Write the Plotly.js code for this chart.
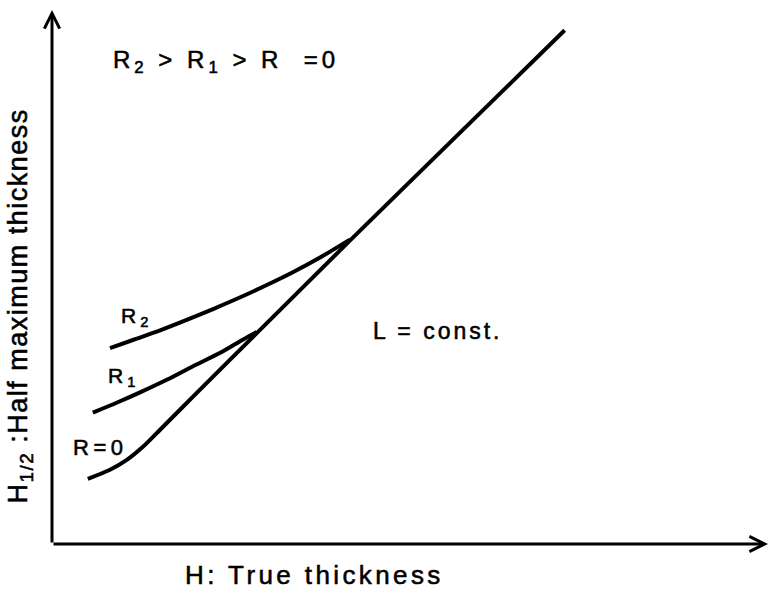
<!DOCTYPE html>
<html>
<head>
<meta charset="utf-8">
<script src="https://cdn.plot.ly/plotly-3.0.1.min.js"></script>
<style>
html,body{margin:0;padding:0;background:#fff;}
#chart{width:769px;height:592px;}
#chart text.annotation-text{stroke:#000;stroke-width:0.55px;}
#chart g.annotation[data-index="0"] text{letter-spacing:4px;}
#chart g.annotation[data-index="1"] text{letter-spacing:3px;}
#chart g.annotation[data-index="2"] text{letter-spacing:4px;}
#chart g.annotation[data-index="3"] text{letter-spacing:4px;}
#chart g.annotation[data-index="4"] text{letter-spacing:4.5px;}
#chart g.annotation[data-index="5"] text{letter-spacing:3.4px;}
#chart g.annotation[data-index="6"] text{letter-spacing:1.5px;}
</style>
</head>
<body>
<div id="chart"></div>
<script>
// H: true thickness (arbitrary units) vs H1/2: half maximum thickness
const hTrueR0 = [5.0, 8.1, 10.5, 12.7, 15.1, 19.7, 28.6, 41.6, 55.6, 71.6];
const hHalfR0 = [12.2, 13.9, 15.8, 18.2, 21.4, 27.6, 39.5, 56.8, 75.2, 96.2];
const hTrueR1 = [5.7, 9.1, 12.3, 16.1, 19.7, 23.5, 26.7, 28.6];
const hHalfR1 = [24.6, 26.5, 28.4, 30.8, 33.3, 35.8, 38.3, 39.7];
const hTrueR2 = [8.1, 11.3, 15.1, 18.9, 22.5, 26.3, 30.0, 33.5, 37.5, 41.6];
const hHalfR2 = [36.7, 38.2, 40.0, 42.0, 44.0, 46.2, 48.5, 50.8, 53.7, 57.0];

const seriesNames = ["R=0", "R1", "R2"];
const labelTexts = ["R=0", "R<sub>1</sub>", "R<sub>2</sub>"];
const titleText = "R<sub>2</sub> > R<sub>1</sub> > R  =0";
const noteText = "L = const.";
const xTitle = "H: True thickness";
const yTitle = "H<sub>1/2</sub> :Half maximum thickness";

const FONT = "Liberation Sans, Arial, sans-serif";
const lineStyle = {color: "#000", width: 4, shape: "spline", smoothing: 0.8};

const traces = [
  {x: hTrueR0, y: hHalfR0, name: seriesNames[0], mode: "lines", line: lineStyle, hoverinfo: "skip"},
  {x: hTrueR1, y: hHalfR1, name: seriesNames[1], mode: "lines", line: lineStyle, hoverinfo: "skip"},
  {x: hTrueR2, y: hHalfR2, name: seriesNames[2], mode: "lines", line: lineStyle, hoverinfo: "skip"}
];

const txt = (size) => ({family: FONT, size: size, color: "#000"});

const annotations = [
  {xref: "x", yref: "y", x: 8.3, y: 90.4, xanchor: "left", align: "left", yanchor: "middle", text: titleText, showarrow: false, font: txt(24)},
  {xref: "x", yref: "y", x: 44.5, y: 39.8, xanchor: "left", align: "left", yanchor: "middle", text: noteText, showarrow: false, font: txt(23)},
  {xref: "x", yref: "y", x: 9.3, y: 42.5, xanchor: "left", align: "left", yanchor: "middle", text: labelTexts[2], showarrow: false, font: txt(21)},
  {xref: "x", yref: "y", x: 7.6, y: 31.2, xanchor: "left", align: "left", yanchor: "middle", text: labelTexts[1], showarrow: false, font: txt(21)},
  {xref: "x", yref: "y", x: 2.7, y: 18.0, xanchor: "left", align: "left", yanchor: "middle", text: labelTexts[0], showarrow: false, font: txt(22)},
  {xref: "paper", yref: "paper", x: 0.367, y: -0.058, xanchor: "center", yanchor: "middle", text: xTitle, showarrow: false, font: txt(26)},
  {xref: "paper", yref: "paper", x: -0.045, y: 0.446, xanchor: "center", yanchor: "middle", text: yTitle, textangle: -90, showarrow: false, font: txt(27)},
  // axes drawn as arrows
  {xref: "x", yref: "y", axref: "x", ayref: "y", x: 0, y: 100, ax: 0, ay: 0, text: "", showarrow: true, arrowhead: 5, arrowsize: 1, arrowwidth: 3, arrowcolor: "#000", standoff: 0, startstandoff: 0},
  {xref: "x", yref: "y", axref: "x", ayref: "y", x: 100, y: 0, ax: 0, ay: 0, text: "", showarrow: true, arrowhead: 5, arrowsize: 1, arrowwidth: 3, arrowcolor: "#000", standoff: 0, startstandoff: 0}
];

const layout = {
  width: 769, height: 592,
  margin: {l: 52, r: 1, t: 10, b: 48},
  paper_bgcolor: "#fff", plot_bgcolor: "#fff",
  showlegend: false,
  xaxis: {range: [0, 100], visible: false, fixedrange: true},
  yaxis: {range: [0, 100], visible: false, fixedrange: true},
  annotations: annotations
};

Plotly.newPlot("chart", traces, layout, {displayModeBar: false, staticPlot: true});
</script>
</body>
</html>
